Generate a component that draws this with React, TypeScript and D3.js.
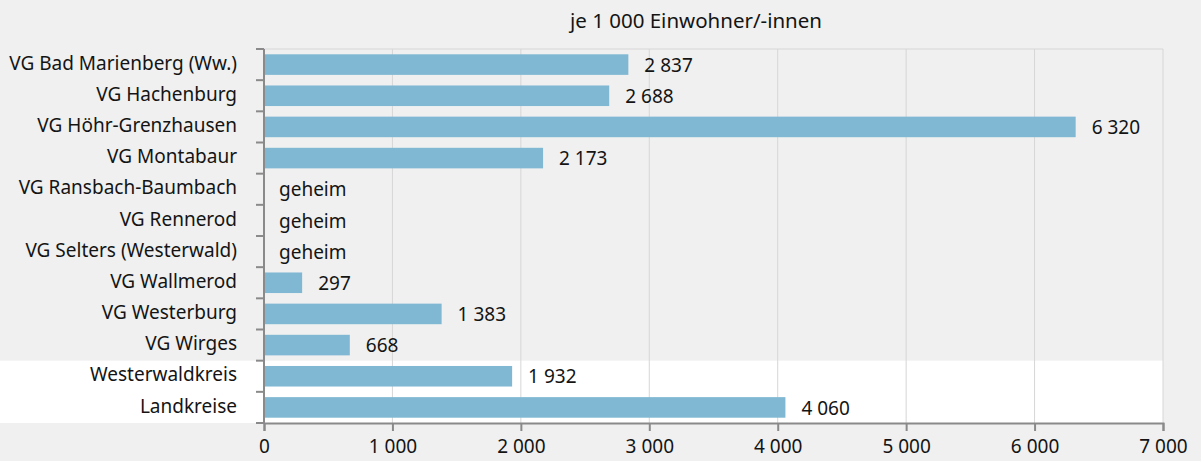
import React, { useRef, useEffect } from "react";
import * as d3 from "d3";

const categories = [
  "VG Bad Marienberg (Ww.)",
  "VG Hachenburg",
  "VG Höhr-Grenzhausen",
  "VG Montabaur",
  "VG Ransbach-Baumbach",
  "VG Rennerod",
  "VG Selters (Westerwald)",
  "VG Wallmerod",
  "VG Westerburg",
  "VG Wirges",
  "Westerwaldkreis",
  "Landkreise",
];
const values: (number | null)[] = [2837, 2688, 6320, 2173, null, null, null, 297, 1383, 668, 1932, 4060];
const highlighted = ["Westerwaldkreis", "Landkreise"];
const xTicks = [0, 1000, 2000, 3000, 4000, 5000, 6000, 7000];
const title = "je 1 000 Einwohner/-innen";

const App = () => {
  const ref = useRef<SVGSVGElement>(null);

  useEffect(() => {
    const width = 1201;
    const height = 461;
    const margin = { top: 49, right: 38, bottom: 38, left: 264 };
    const font = "'Noto Sans', 'Open Sans', sans-serif";
    const fs = "19px";
    const ink = "#141414";

    const locale = d3.formatLocale({ decimal: ",", thousands: " ", grouping: [3], currency: ["", "€"] });
    const fmt = locale.format(",d");

    const svg = d3.select(ref.current);
    svg.selectAll("*").remove();

    svg.append("rect").attr("width", width).attr("height", height).attr("fill", "#eff0ef");

    const x = d3.scaleLinear().domain([0, 7000]).range([margin.left, width - margin.right]);
    const y = d3.scaleBand().domain(categories).range([margin.top, height - margin.bottom]).paddingInner(0.34).paddingOuter(0.17);
    const step = y.step();
    const bandTop = (c: string) => (y(c) as number) - step * 0.17;

    // white band for summary rows
    const hTop = bandTop(highlighted[0]);
    svg.append("rect")
      .attr("x", 0).attr("y", hTop)
      .attr("width", x(7000)).attr("height", height - margin.bottom - hTop)
      .attr("fill", "#ffffff");

    // grid
    svg.append("g").selectAll("line").data(xTicks.slice(1)).join("line")
      .attr("x1", d => x(d)).attr("x2", d => x(d))
      .attr("y1", margin.top).attr("y2", height - margin.bottom)
      .attr("stroke", "#d6d6d6").attr("stroke-width", 1);
    svg.append("line")
      .attr("x1", margin.left).attr("x2", x(7000))
      .attr("y1", margin.top).attr("y2", margin.top)
      .attr("stroke", "#d6d6d6");

    // bars
    categories.forEach((c, i) => {
      const v = values[i];
      const cy = (y(c) as number) + y.bandwidth() / 2;
      if (v != null) {
        svg.append("rect")
          .attr("x", x(0)).attr("y", y(c) as number)
          .attr("width", x(v) - x(0)).attr("height", y.bandwidth())
          .attr("fill", "#80b8d4");
      }
      svg.append("text")
        .attr("x", v != null ? x(v) + 16 : x(0) + 15)
        .attr("y", cy + 2)
        .attr("dominant-baseline", "middle")
        .style("font-family", font).style("font-size", fs).attr("fill", ink)
        .text(v != null ? fmt(v) : "geheim");
      svg.append("text")
        .attr("x", 237).attr("y", cy)
        .attr("text-anchor", "end").attr("dominant-baseline", "middle")
        .style("font-family", font).style("font-size", fs).attr("fill", ink)
        .text(c);
    });

    // y axis with ticks at band boundaries
    const axisColor = "#8a8a8a";
    svg.append("line")
      .attr("x1", margin.left).attr("x2", margin.left)
      .attr("y1", margin.top).attr("y2", height - margin.bottom)
      .attr("stroke", axisColor).attr("stroke-width", 2);
    const bounds = categories.map(c => bandTop(c)).concat([height - margin.bottom]);
    svg.append("g").selectAll("line").data(bounds).join("line")
      .attr("x1", margin.left - 8).attr("x2", margin.left)
      .attr("y1", d => d).attr("y2", d => d)
      .attr("stroke", axisColor).attr("stroke-width", 2);

    // x axis
    const xAxis = d3.axisBottom(x).tickValues(xTicks).tickSize(8).tickPadding(9).tickFormat(d => fmt(d as number));
    const gx = svg.append("g").attr("transform", `translate(0,${height - margin.bottom})`).call(xAxis);
    gx.select(".domain").attr("stroke", axisColor).attr("stroke-width", 2);
    gx.selectAll(".tick line").attr("stroke", axisColor).attr("stroke-width", 2);
    gx.selectAll(".tick text").style("font-family", font).style("font-size", fs).attr("fill", ink);

    svg.append("text")
      .attr("x", 696).attr("y", 22)
      .attr("text-anchor", "middle").attr("dominant-baseline", "middle")
      .style("font-family", font).style("font-size", "20.5px").attr("fill", ink)
      .text(title);
  }, []);

  return <svg ref={ref} width={1201} height={461} style={{ display: "block", position: "absolute", left: 0, top: 0 }} />;
};

export default App;
